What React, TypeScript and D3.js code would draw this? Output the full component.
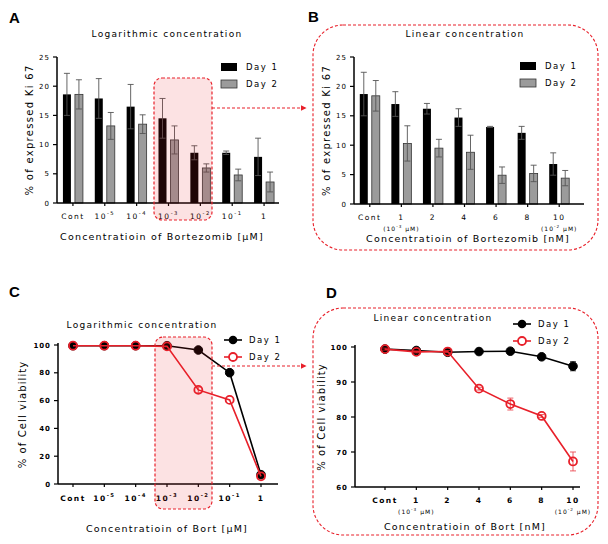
import React from "react";
import * as d3 from "d3";

const logCats = ["Cont", "10^-5", "10^-4", "10^-3", "10^-2", "10^-1", "1"];
const linCats = ["Cont", "1", "2", "4", "6", "8", "10"];
const linSubs = ["", "(10^-3 μM)", "", "", "", "", "(10^-2 μM)"];

const kiLogDay1 = [18.6, 17.9, 16.5, 14.5, 8.6, 8.6, 7.9];
const kiLogDay1Err = [3.6, 3.4, 3.8, 3.4, 1.2, 0.3, 3.2];
const kiLogDay2 = [18.6, 13.2, 13.5, 10.8, 6.0, 4.8, 3.6];
const kiLogDay2Err = [2.5, 2.3, 1.6, 2.4, 0.7, 1.0, 1.7];

const kiLinDay1 = [18.7, 17.0, 16.2, 14.7, 13.1, 12.1, 6.8];
const kiLinDay1Err = [3.7, 2.1, 0.9, 1.5, 0.1, 1.1, 1.9];
const kiLinDay2 = [18.4, 10.3, 9.5, 8.8, 4.9, 5.2, 4.4];
const kiLinDay2Err = [2.6, 3.0, 1.5, 2.9, 1.4, 1.4, 1.3];

const cvLogDay1 = [99.5, 99.5, 99.5, 99.5, 96.4, 80.1, 6.7];
const cvLogDay1Err = [0, 0, 0, 0, 0, 0, 0];
const cvLogDay2 = [99.5, 99.5, 99.5, 99.0, 67.7, 60.5, 5.5];
const cvLogDay2Err = [0, 0, 0, 0, 2.0, 0, 0];

const cvLinDay1 = [99.4, 99.0, 98.5, 98.7, 98.8, 97.2, 94.5];
const cvLinDay1Err = [0.3, 0.2, 0.2, 0.2, 0.2, 0.3, 1.3];
const cvLinDay2 = [99.4, 98.6, 98.7, 88.1, 83.7, 80.3, 67.3];
const cvLinDay2Err = [0.3, 0.3, 0.3, 0.4, 1.7, 0.4, 2.7];

const kiTicks = [0, 5, 10, 15, 20, 25];
const cvLogTicks = [0, 20, 40, 60, 80, 100];
const cvLinTicks = [60, 70, 80, 90, 100];

const FONT = "DejaVu Sans";
const RED = "#e8202a";

function SupText({ s, x, y, size, bold, ls }: any) {
  const parts = s.split(/\^(-?\d+)/);
  const out: any[] = [];
  let raised = false;
  parts.forEach((p: string, i: number) => {
    if (i % 2 === 1) {
      out.push(
        <tspan key={i} dy={-size * 0.55} fontSize={size * 0.7}>
          {p}
        </tspan>
      );
      raised = true;
    } else if (p.length) {
      out.push(
        <tspan key={i} dy={raised ? size * 0.55 : 0}>
          {p}
        </tspan>
      );
      raised = false;
    }
  });
  return (
    <text
      x={x}
      y={y}
      fontSize={size}
      fontFamily={FONT}
      fontWeight={bold ? "bold" : "normal"}
      textAnchor="middle"
      style={{ letterSpacing: ls }}
    >
      {out}
    </text>
  );
}

function BarPanel(p: any) {
  const y = d3.scaleLinear([0, 25], [p.yBot, p.yTop]);
  const x = d3.scaleBand(p.cats, p.xRange);
  const c = (k: string) => (x(k) as number) + x.bandwidth() / 2;
  const bw = 8;
  const errs = (vals: number[], errs: number[], off: number) =>
    vals.map((v, i) => {
      const cx = c(p.cats[i]) + off;
      const hi = y(v + errs[i]);
      const lo = y(v - errs[i]);
      return (
        <g key={i} stroke="#555" strokeWidth={0.9}>
          <line x1={cx} x2={cx} y1={hi} y2={lo} />
          <line x1={cx - 3} x2={cx + 3} y1={hi} y2={hi} />
          <line x1={cx - 3} x2={cx + 3} y1={lo} y2={lo} />
        </g>
      );
    });
  return (
    <g>
      <text x={p.titleX} y={p.titleY} fontSize={9} fontFamily={FONT} textAnchor="middle" style={{ letterSpacing: 1.3 }}>
        {p.title}
      </text>
      {p.cats.map((k: string, i: number) => (
        <g key={k}>
          <rect x={c(k) - 10} width={bw} y={y(p.d1[i])} height={p.yBot - y(p.d1[i])} fill="#000" />
          <rect
            x={c(k) + 2}
            width={bw}
            y={y(p.d2[i])}
            height={p.yBot - y(p.d2[i])}
            fill="#9b9b9b"
            stroke="#333"
            strokeWidth={0.8}
          />
        </g>
      ))}
      {errs(p.d1, p.e1, -6)}
      {errs(p.d2, p.e2, 6)}
      <line x1={p.xRange[0]} x2={p.xRange[0]} y1={p.yBot} y2={p.yTop} stroke="#000" strokeWidth={1.5} />
      <line x1={p.xRange[0]} x2={p.axisEnd} y1={p.yBot} y2={p.yBot} stroke="#000" strokeWidth={1.5} />
      {kiTicks.map((t) => (
        <g key={t}>
          <line x1={p.xRange[0] - 4} x2={p.xRange[0]} y1={y(t)} y2={y(t)} stroke="#000" strokeWidth={1.2} />
          <text
            x={p.xRange[0] - 7}
            y={y(t) + 2.5}
            fontSize={7}
            fontFamily={FONT}
            textAnchor="end"
            style={{ letterSpacing: 1 }}
          >
            {t}
          </text>
        </g>
      ))}
      {p.cats.map((k: string, i: number) => (
        <g key={k}>
          <line x1={c(k)} x2={c(k)} y1={p.yBot} y2={p.yBot + 3} stroke="#000" strokeWidth={1.2} />
          <SupText s={k} x={c(k)} y={p.tickY} size={7.5} ls={1.5} />
          {p.subs && p.subs[i] ? <SupText s={p.subs[i]} x={c(k)} y={p.tickY + 11} size={6} ls={1} /> : null}
        </g>
      ))}
      <text
        transform={`translate(${p.yLabelX},${(p.yTop + p.yBot) / 2}) rotate(-90)`}
        fontSize={10}
        fontFamily={FONT}
        textAnchor="middle"
        style={{ letterSpacing: 1.3 }}
      >
        % of expressed Ki 67
      </text>
      <text x={p.xTitleX} y={p.xTitleY} fontSize={9.5} fontFamily={FONT} textAnchor="middle" style={{ letterSpacing: 1.2 }}>
        {p.xTitle}
      </text>
      <rect x={p.legX} y={p.legY} width={16} height={8} fill="#000" />
      <text x={p.legX + 25} y={p.legY + 7} fontSize={8.5} fontFamily={FONT} style={{ letterSpacing: 1.5 }}>
        Day 1
      </text>
      <rect x={p.legX} y={p.legY + 17} width={16} height={8} fill="#9b9b9b" stroke="#333" strokeWidth={0.8} />
      <text x={p.legX + 25} y={p.legY + 24} fontSize={8.5} fontFamily={FONT} style={{ letterSpacing: 1.5 }}>
        Day 2
      </text>
    </g>
  );
}

function LinePanel(p: any) {
  const y = d3.scaleLinear(p.yDomain, [p.yBot, p.yTop]);
  const x = d3.scalePoint(p.cats, p.xRange);
  const line = d3
    .line<number>()
    .x((_, i) => x(p.cats[i]) as number)
    .y((v) => y(v));
  const series = (vals: number[], errs: number[], color: string, open: boolean) => (
    <g>
      <path d={line(vals) || ""} fill="none" stroke={color} strokeWidth={1.6} />
      {vals.map((v, i) => {
        const cx = x(p.cats[i]) as number;
        return (
          <g key={i}>
            {errs[i] > 0 ? (
              <g stroke={color} strokeWidth={0.9} opacity={0.8}>
                <line x1={cx} x2={cx} y1={y(v + errs[i])} y2={y(v - errs[i])} />
                <line x1={cx - 3} x2={cx + 3} y1={y(v + errs[i])} y2={y(v + errs[i])} />
                <line x1={cx - 3} x2={cx + 3} y1={y(v - errs[i])} y2={y(v - errs[i])} />
              </g>
            ) : null}
            <circle
              cx={cx}
              cy={y(v)}
              r={open ? 4 : 4.3}
              fill={open ? "none" : color}
              stroke={color}
              strokeWidth={open ? 1.8 : 1}
            />
          </g>
        );
      })}
    </g>
  );
  return (
    <g>
      <text x={p.titleX} y={p.titleY} fontSize={9} fontFamily={FONT} textAnchor="middle" style={{ letterSpacing: 1.3 }}>
        {p.title}
      </text>
      <line x1={p.axisStart} x2={p.axisStart} y1={p.yBot} y2={p.yTop - 2} stroke="#000" strokeWidth={1.5} />
      <line x1={p.axisStart} x2={p.axisEnd} y1={p.yBot} y2={p.yBot} stroke="#000" strokeWidth={1.5} />
      {p.yTicks.map((t: number) => (
        <g key={t}>
          <line x1={p.axisStart - 4} x2={p.axisStart} y1={y(t)} y2={y(t)} stroke="#000" strokeWidth={1.2} />
          <text
            x={p.axisStart - 7}
            y={y(t) + 2.5}
            fontSize={7}
            fontWeight="bold"
            fontFamily={FONT}
            textAnchor="end"
            style={{ letterSpacing: 1 }}
          >
            {t}
          </text>
        </g>
      ))}
      {p.cats.map((k: string, i: number) => {
        const cx = x(k) as number;
        return (
          <g key={k}>
            <line x1={cx} x2={cx} y1={p.yBot} y2={p.yBot + 3} stroke="#000" strokeWidth={1.2} />
            <SupText s={k} x={cx} y={p.tickY} size={7.5} bold ls={1.5} />
            {p.subs && p.subs[i] ? <SupText s={p.subs[i]} x={cx} y={p.tickY + 11} size={6} ls={1} /> : null}
          </g>
        );
      })}
      {series(p.d1, p.e1, "#000", false)}
      {series(p.d2, p.e2, RED, true)}
      <text
        transform={`translate(${p.yLabelX},${(p.yTop + p.yBot) / 2}) rotate(-90)`}
        fontSize={10}
        fontFamily={FONT}
        textAnchor="middle"
        style={{ letterSpacing: 1.1 }}
      >
        % of Cell viability
      </text>
      <text x={p.xTitleX} y={p.xTitleY} fontSize={9.5} fontFamily={FONT} textAnchor="middle" style={{ letterSpacing: 1.2 }}>
        {p.xTitle}
      </text>
      <line x1={p.legX} x2={p.legX + 18} y1={p.legY} y2={p.legY} stroke="#000" strokeWidth={1.6} />
      <circle cx={p.legX + 9} cy={p.legY} r={4.3} fill="#000" />
      <text x={p.legX + 25} y={p.legY + 3} fontSize={8.5} fontFamily={FONT} style={{ letterSpacing: 1.5 }}>
        Day 1
      </text>
      <line x1={p.legX} x2={p.legX + 18} y1={p.legY + 17} y2={p.legY + 17} stroke={RED} strokeWidth={1.6} />
      <circle cx={p.legX + 9} cy={p.legY + 17} r={4} fill="#fff" stroke={RED} strokeWidth={1.8} />
      <text x={p.legX + 25} y={p.legY + 20} fontSize={8.5} fontFamily={FONT} style={{ letterSpacing: 1.5 }}>
        Day 2
      </text>
    </g>
  );
}

function Letter({ x, y, t }: any) {
  return (
    <text x={x} y={y} fontSize={15} fontWeight="bold" fontFamily="Liberation Sans">
      {t}
    </text>
  );
}

export default function App() {
  const dash = "3,2";
  return (
    <svg width={608} height={544} style={{ position: "absolute", left: 0, top: 0, background: "#fff" }}>
      <defs>
        <marker id="arr" viewBox="0 0 10 10" refX="9" refY="5" markerWidth="5" markerHeight="5" orient="auto">
          <path d="M0,0 L10,5 L0,10 z" fill={RED} />
        </marker>
      </defs>
      <rect width={608} height={544} fill="#fff" />
      <Letter x={9} y={23} t="A" />
      <Letter x={308} y={22} t="B" />
      <Letter x={9} y={297} t="C" />
      <Letter x={326} y={298} t="D" />

      <BarPanel
        cats={logCats}
        d1={kiLogDay1}
        e1={kiLogDay1Err}
        d2={kiLogDay2}
        e2={kiLogDay2Err}
        xRange={[57, 280]}
        axisEnd={279}
        yTop={57}
        yBot={203}
        tickY={219}
        title="Logarithmic concentration"
        titleX={167}
        titleY={37}
        xTitle="Concentratioin of Bortezomib [μM]"
        xTitleX={162}
        xTitleY={240}
        yLabelX={33}
        legX={221}
        legY={63}
      />
      <rect x={154} y={78} width={58} height={142} rx={8} fill={RED} fillOpacity={0.13} stroke={RED} strokeWidth={1.2} strokeDasharray={dash} />
      <line x1={212} x2={306} y1={108} y2={108} stroke={RED} strokeWidth={1.2} strokeDasharray={dash} markerEnd="url(#arr)" />

      <rect x={313} y={25} width={285} height={225} rx={30} fill="none" stroke={RED} strokeWidth={1.1} strokeDasharray={dash} />
      <BarPanel
        cats={linCats}
        subs={linSubs}
        d1={kiLinDay1}
        e1={kiLinDay1Err}
        d2={kiLinDay2}
        e2={kiLinDay2Err}
        xRange={[354, 575]}
        axisEnd={584}
        yTop={57}
        yBot={204}
        tickY={220}
        title="Linear concentration"
        titleX={465}
        titleY={37}
        xTitle="Concentratioin of Bortezomib [nM]"
        xTitleX={468}
        xTitleY={242}
        yLabelX={330}
        legX={520}
        legY={62}
      />

      <LinePanel
        cats={logCats}
        d1={cvLogDay1}
        e1={cvLogDay1Err}
        d2={cvLogDay2}
        e2={cvLogDay2Err}
        yDomain={[0, 100]}
        yTicks={cvLogTicks}
        xRange={[73, 261]}
        axisStart={58}
        axisEnd={278}
        yTop={345}
        yBot={484}
        tickY={501}
        title="Logarithmic concentration"
        titleX={142}
        titleY={328}
        xTitle="Concentratioin of Bort [μM]"
        xTitleX={167}
        xTitleY={532}
        yLabelX={26}
        legX={224}
        legY={340}
      />
      <rect x={155} y={337} width={57} height={172} rx={8} fill={RED} fillOpacity={0.13} stroke={RED} strokeWidth={1.2} strokeDasharray={dash} />
      <line x1={212} x2={306} y1={366} y2={366} stroke={RED} strokeWidth={1.2} strokeDasharray={dash} markerEnd="url(#arr)" />

      <rect x={313} y={308} width={285} height={227} rx={30} fill="none" stroke={RED} strokeWidth={1.1} strokeDasharray={dash} />
      <LinePanel
        cats={linCats}
        subs={linSubs}
        d1={cvLinDay1}
        e1={cvLinDay1Err}
        d2={cvLinDay2}
        e2={cvLinDay2Err}
        yDomain={[60, 100]}
        yTicks={cvLinTicks}
        xRange={[385, 573]}
        axisStart={355}
        axisEnd={580}
        yTop={347}
        yBot={487}
        tickY={503}
        title="Linear concentration"
        titleX={433}
        titleY={321}
        xTitle="Concentratioin of Bort [nM]"
        xTitleX={465}
        xTitleY={530}
        yLabelX={325}
        legX={513}
        legY={324}
      />
    </svg>
  );
}
